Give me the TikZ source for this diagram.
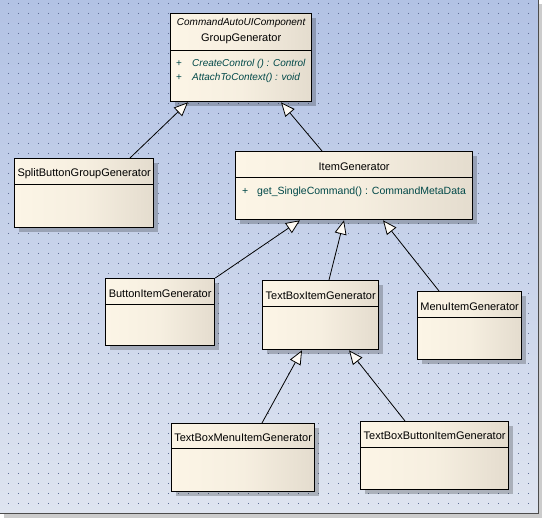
\documentclass[tikz,border=0pt]{standalone}
\usepackage{fontspec}
\setmainfont{Liberation Sans}
\usepackage{tikz}
\usetikzlibrary{arrows.meta, positioning, shadows}
\usepackage{xcolor}
\definecolor{bgtop}{RGB}{178,194,228}
\definecolor{bgbot}{RGB}{222,228,240}
\definecolor{griddot}{RGB}{96,110,150}
\definecolor{clsleft}{RGB}{252,245,230}
\definecolor{clsright}{RGB}{228,220,206}
\definecolor{opcol}{RGB}{0,72,72}

\begin{document}
\begin{tikzpicture}[x=1pt, y=-1pt,
    cls/.style={rectangle, draw, line width=1.3pt, anchor=north west, inner sep=0pt,
        left color=clsleft, right color=clsright, middle color=clsleft!75!clsright,
        drop shadow={shadow xshift=4pt, shadow yshift=-4pt, fill=black, opacity=0.22}},
    title/.style={font=\fontsize{11}{12}\selectfont, inner sep=0pt},
    op/.style={font=\fontsize{10.5}{12}\selectfont, text=opcol, anchor=west, inner sep=0pt},
    gen/.style={-{Triangle[length=14pt, width=12pt, fill=white!60!clsleft, line width=0.8pt]}, line width=0.8pt}
]
\useasboundingbox (0,0) rectangle (542,518);
\fill[white] (0,0) rectangle (542,518);
\fill[gray!40] (4,4) rectangle (542,518);
\shade[top color=bgtop, bottom color=bgbot] (0,0) rectangle (538,513);
\draw[gray!60!black, line width=1pt] (538.5,0) -- (538.5,513.5) -- (0,513.5);
\foreach \i in {0,...,52}
  \foreach \j in {0,...,50}
    \fill[griddot] (8+10*\i, 3+10*\j) rectangle ++(1,1);

\node[cls, minimum width=141pt, minimum height=88pt] (base) at (170,13) {};
\node[cls, minimum width=139pt, minimum height=69pt] (splitgen) at (14,158) {};
\node[cls, minimum width=237pt, minimum height=68pt] (itemgen) at (235,151) {};
\node[cls, minimum width=109pt, minimum height=67pt] (buttongen) at (105,278) {};
\node[cls, minimum width=116pt, minimum height=69pt] (textboxgen) at (262,280) {};
\node[cls, minimum width=104pt, minimum height=68pt] (menugen) at (417,291) {};
\node[cls, minimum width=143pt, minimum height=68pt] (tbmenugen) at (171,423) {};
\node[cls, minimum width=148pt, minimum height=68pt] (tbbuttongen) at (360,421) {};

\foreach \n/\d in {base/38, splitgen/27, itemgen/27, buttongen/27, textboxgen/27, menugen/27, tbmenugen/26, tbbuttongen/27}
  \draw[line width=1pt] ([yshift=-\d pt]\n.north west) -- ([yshift=-\d pt]\n.north east);

\node[title, font=\fontsize{10}{12}\selectfont\itshape] (basepkg) at ([yshift=-10pt]base.north) {CommandAutoUIComponent};
\node[title] (basetitle) at ([yshift=-26pt]base.north) {GroupGenerator};
\node[op, font=\fontsize{10}{12}\selectfont] (baseop1) at ([xshift=6pt, yshift=-51pt]base.north west) {\makebox[16pt][l]{+}\textit{CreateControl () : Control}};
\node[op, font=\fontsize{10}{12}\selectfont] (baseop2) at ([xshift=6pt, yshift=-65pt]base.north west) {\makebox[16pt][l]{+}\textit{AttachToContext() : void}};
\node[title] (splittitle) at ([yshift=-15.5pt]splitgen.north) {SplitButtonGroupGenerator};
\node[title] (itemtitle) at ([yshift=-15.5pt]itemgen.north) {ItemGenerator};
\node[op] (itemop1) at ([xshift=7pt, yshift=-41pt]itemgen.north west) {\makebox[15pt][l]{+}get\_SingleCommand() : CommandMetaData};
\node[title] (buttontitle) at ([yshift=-15.5pt]buttongen.north) {ButtonItemGenerator};
\node[title] (textboxtitle) at ([yshift=-15.5pt]textboxgen.north) {TextBoxItemGenerator};
\node[title] (menutitle) at ([yshift=-15.5pt]menugen.north) {MenuItemGenerator};
\node[title] (tbmenutitle) at ([yshift=-15pt]tbmenugen.north) {TextBoxMenuItemGenerator};
\node[title] (tbbuttontitle) at ([yshift=-15pt]tbbuttongen.north) {TextBoxButtonItemGenerator};

\draw[gen] ([xshift=116pt]splitgen.north west) -- ([xshift=18pt]base.south west);
\draw[gen] ([xshift=87pt]itemgen.north west) -- ([xshift=111pt]base.south west);
\draw[gen] (buttongen.north east) -- ([xshift=65pt]itemgen.south west);
\draw[gen] ([xshift=67pt]textboxgen.north west) -- ([xshift=109pt]itemgen.south west);
\draw[gen] ([xshift=22pt]menugen.north west) -- ([xshift=148pt]itemgen.south west);
\draw[gen] ([xshift=91pt]tbmenugen.north west) -- ([xshift=40pt]textboxgen.south west);
\draw[gen] ([xshift=45pt]tbbuttongen.north west) -- ([xshift=87pt]textboxgen.south west);
\end{tikzpicture}
\end{document}
